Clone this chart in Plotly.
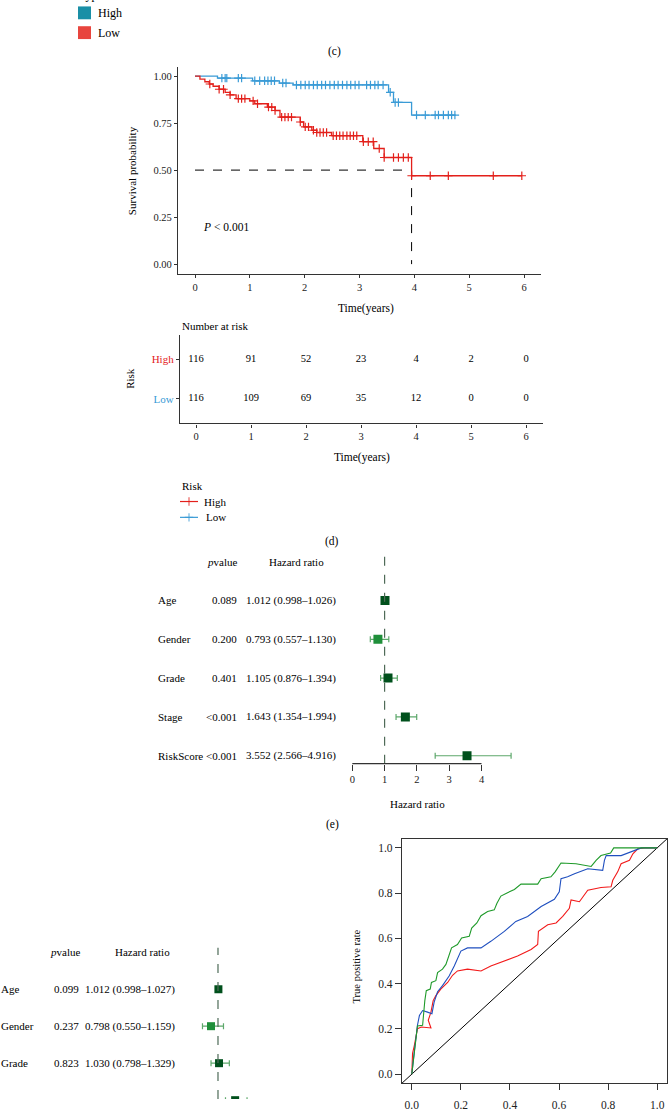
import plotly.graph_objects as go

W, H = 668, 1111
SERIF = "Liberation Serif"

# ---------------- data ----------------
# Kaplan-Meier (panel c)
km_high_event_t = [0.09, 0.18, 0.26, 0.33, 0.44, 0.55, 0.64, 0.75, 1.00, 1.09, 1.32, 1.46, 1.55,
                   1.92, 1.98, 2.13, 2.22, 2.49, 3.06, 3.26, 3.45, 3.95]
km_high_event_s = [0.984, 0.970, 0.958, 0.946, 0.930, 0.914, 0.900, 0.880, 0.868, 0.853, 0.835, 0.817,
                   0.782, 0.756, 0.730, 0.712, 0.700, 0.683, 0.651, 0.615, 0.567, 0.470]
km_high_end = 5.96
km_high_cens = [0.27, 0.44, 0.52, 0.64, 0.79, 0.85, 0.91, 1.06, 1.14, 1.34, 1.40, 1.46, 1.58, 1.64, 1.70,
                1.76, 1.92, 2.01, 2.07, 2.16, 2.22, 2.28, 2.34, 2.40, 2.52, 2.58, 2.64, 2.70, 2.77, 2.83,
                2.89, 2.95, 3.07, 3.16, 3.25, 3.36, 3.45, 3.62, 3.71, 3.80, 3.89, 3.95, 4.29, 4.62,
                5.44, 5.96]
km_low_event_t = [0.41, 1.05, 1.54, 1.79, 3.53, 3.62, 3.95]
km_low_event_s = [0.989, 0.975, 0.963, 0.953, 0.914, 0.860, 0.793]
km_low_end = 4.74
km_low_cens = [0.49, 0.55, 0.58, 0.79, 0.85, 1.09, 1.18, 1.27, 1.33, 1.39, 1.45, 1.60, 1.66, 1.85, 1.93,
               2.01, 2.08, 2.16, 2.23, 2.31, 2.38, 2.46, 2.54, 2.61, 2.69, 2.77, 2.84, 2.92, 2.99, 3.13,
               3.20, 3.28, 3.34, 3.43, 3.56, 3.65, 3.71, 4.04, 4.20, 4.38, 4.44, 4.53, 4.62, 4.68, 4.74]
median_time = 3.95
median_level = 0.5
p_text = "<i>P</i> < 0.001"

risk_groups = ["High", "Low"]
risk_times = [0, 1, 2, 3, 4, 5, 6]
risk_high = [116, 91, 52, 23, 4, 2, 0]
risk_low = [116, 109, 69, 35, 12, 0, 0]
km_yticks = [0, 0.25, 0.5, 0.75, 1.0]

# Forest (panel d)
fd_vars = ["Age", "Gender", "Grade", "Stage", "RiskScore"]
fd_p = ["0.089", "0.200", "0.401", "<0.001", "<0.001"]
fd_hr = [1.012, 0.793, 1.105, 1.643, 3.552]
fd_lo = [0.998, 0.557, 0.876, 1.354, 2.566]
fd_hi = [1.026, 1.130, 1.394, 1.994, 4.916]
fd_ticks = [0, 1, 2, 3, 4]

# Forest (panel e, cut by the page edge)
fe_vars = ["Age", "Gender", "Grade", "Stage"]
fe_p = ["0.099", "0.237", "0.823", "<0.001"]
fe_hr = [1.012, 0.798, 1.030, 1.497]
fe_lo = [0.998, 0.550, 0.798, 1.217]
fe_hi = [1.027, 1.159, 1.329, 1.842]

# ROC curves
roc_green_fpr = [0, 0.004, 0.010, 0.015, 0.020, 0.023, 0.044, 0.048, 0.053, 0.059, 0.075, 0.080, 0.098,
                 0.105, 0.125, 0.139, 0.152, 0.162, 0.186, 0.203, 0.234, 0.244, 0.265, 0.282, 0.309,
                 0.336, 0.347, 0.363, 0.390, 0.418, 0.445, 0.513, 0.527, 0.567, 0.584, 0.601, 0.608,
                 0.669, 0.731, 0.751, 0.771, 0.810, 0.823, 1.0]
roc_green_tpr = [0, 0.041, 0.085, 0.143, 0.201, 0.213, 0.216, 0.274, 0.325, 0.369, 0.376, 0.405, 0.413,
                 0.449, 0.464, 0.485, 0.522, 0.558, 0.573, 0.602, 0.609, 0.646, 0.668, 0.700, 0.719,
                 0.726, 0.755, 0.787, 0.802, 0.816, 0.840, 0.840, 0.864, 0.872, 0.894, 0.923, 0.933,
                 0.930, 0.918, 0.945, 0.966, 0.977, 1.0, 1.0]
roc_blue_fpr = [0, 0.004, 0.010, 0.015, 0.023, 0.031, 0.044, 0.064, 0.082, 0.091, 0.105, 0.125, 0.152,
                0.173, 0.200, 0.227, 0.282, 0.322, 0.377, 0.424, 0.472, 0.527, 0.581, 0.601, 0.608,
                0.635, 0.663, 0.717, 0.778, 0.785, 0.792, 0.853, 0.907, 0.935, 1.0]
roc_blue_tpr = [0, 0.055, 0.099, 0.143, 0.216, 0.259, 0.281, 0.274, 0.267, 0.318, 0.364, 0.391, 0.434,
                0.478, 0.544, 0.558, 0.558, 0.587, 0.631, 0.675, 0.697, 0.741, 0.773, 0.806, 0.864,
                0.872, 0.886, 0.908, 0.901, 0.945, 0.966, 0.966, 0.988, 1.0, 1.0]
roc_red_fpr = [0, 0.003, 0.010, 0.016, 0.023, 0.039, 0.078, 0.067, 0.078, 0.087, 0.098, 0.118, 0.146,
               0.166, 0.186, 0.227, 0.282, 0.322, 0.377, 0.431, 0.486, 0.513, 0.516, 0.554, 0.588,
               0.615, 0.642, 0.649, 0.683, 0.717, 0.771, 0.812, 0.819, 0.839, 0.853, 0.887, 0.901,
               0.921, 0.948, 1.0]
roc_red_tpr = [0, 0.092, 0.125, 0.157, 0.201, 0.208, 0.204, 0.238, 0.274, 0.325, 0.347, 0.376, 0.405,
               0.437, 0.456, 0.464, 0.456, 0.478, 0.500, 0.522, 0.551, 0.573, 0.631, 0.660, 0.668,
               0.697, 0.733, 0.770, 0.762, 0.813, 0.825, 0.828, 0.857, 0.894, 0.930, 0.945, 0.974,
               0.996, 1.0, 1.0]
roc_ticks = [0, 0.2, 0.4, 0.6, 0.8, 1.0]

# ---------------- styles ----------------
RED = "#E3201B"
BLUE = "#3A9BD6"
AX = "#333333"
DARKGREEN = "#00501C"
LIGHTGREEN = "#1F8F3A"
CI_GREEN = "#5DA86B"
TEAL = "#1A8FA6"
LEGRED = "#E8453E"
FS = 11  # forest text size


def px(x):
    return x / W


def py(y):
    return 1 - y / H


def surv_at(t, ts, ss):
    s = 1.0
    for ti, si in zip(ts, ss):
        if ti <= t:
            s = si
    return s


annotations = []


def ann(text, x, y, xanchor="center", size=11, color="black", angle=0, xref="paper", yref="paper",
        yanchor="middle"):
    annotations.append(dict(text=text, x=x, y=y, xref=xref, yref=yref, xanchor=xanchor, yanchor=yanchor,
                            showarrow=False, textangle=angle, borderpad=0,
                            font=dict(family=SERIF, size=size, color=color)))


fig = go.Figure()

# ---------------- KM panel ----------------
fig.add_trace(go.Scatter(x=[0, median_time], y=[median_level, median_level], mode="lines",
                         line=dict(color="black", width=1, dash="dash"), xaxis="x", yaxis="y"))
fig.add_trace(go.Scatter(x=[median_time, median_time], y=[median_level, 0], mode="lines",
                         line=dict(color="black", width=1, dash="dash"), xaxis="x", yaxis="y"))
for ts, ss, end, cens, col in [(km_low_event_t, km_low_event_s, km_low_end, km_low_cens, BLUE),
                               (km_high_event_t, km_high_event_s, km_high_end, km_high_cens, RED)]:
    fig.add_trace(go.Scatter(x=[0] + ts + [end], y=[1.0] + ss + [ss[-1]], mode="lines",
                             line=dict(color=col, width=1.3, shape="hv"), xaxis="x", yaxis="y"))
    fig.add_trace(go.Scatter(x=cens, y=[surv_at(c, ts, ss) for c in cens], mode="markers",
                             marker=dict(symbol="cross-thin", size=6, line=dict(color=col, width=1.2)),
                             xaxis="x", yaxis="y"))

# ---------------- risk table ----------------
fig.add_trace(go.Scatter(x=risk_times, y=[2] * len(risk_times), mode="text",
                         text=[str(v) for v in risk_high],
                         textfont=dict(family=SERIF, size=10.5, color="black"), xaxis="x2", yaxis="y2"))
fig.add_trace(go.Scatter(x=risk_times, y=[1] * len(risk_times), mode="text",
                         text=[str(v) for v in risk_low],
                         textfont=dict(family=SERIF, size=10.5, color="black"), xaxis="x2", yaxis="y2"))

# ---------------- forest d ----------------
rows_d = list(range(1, len(fd_vars) + 1))
fig.add_trace(go.Scatter(
    x=fd_hr, y=rows_d, mode="markers", xaxis="x3", yaxis="y3",
    marker=dict(symbol="square", size=9, color=[DARKGREEN if h >= 1 else LIGHTGREEN for h in fd_hr]),
    error_x=dict(type="data", symmetric=False,
                 array=[h - m for h, m in zip(fd_hi, fd_hr)],
                 arrayminus=[m - l for m, l in zip(fd_hr, fd_lo)],
                 color=CI_GREEN, thickness=1.2, width=3)))

# ---------------- forest e ----------------
rows_e = list(range(1, len(fe_vars) + 1))
fig.add_trace(go.Scatter(
    x=fe_hr, y=rows_e, mode="markers", xaxis="x4", yaxis="y4",
    marker=dict(symbol="square", size=8, color=[DARKGREEN if h >= 1 else LIGHTGREEN for h in fe_hr]),
    error_x=dict(type="data", symmetric=False,
                 array=[h - m for h, m in zip(fe_hi, fe_hr)],
                 arrayminus=[m - l for m, l in zip(fe_hr, fe_lo)],
                 color=CI_GREEN, thickness=1.2, width=3)))

# ---------------- ROC ----------------
fig.add_trace(go.Scatter(x=[-0.04, 1.04], y=[-0.04, 1.04], mode="lines",
                         line=dict(color="black", width=1), xaxis="x5", yaxis="y5"))
for fpr, tpr, col in [(roc_red_fpr, roc_red_tpr, "#F21A1A"),
                      (roc_blue_fpr, roc_blue_tpr, "#1F4FBF"),
                      (roc_green_fpr, roc_green_tpr, "#1F9A2A")]:
    fig.add_trace(go.Scatter(x=fpr, y=tpr, mode="lines", line=dict(color=col, width=1.1),
                             xaxis="x5", yaxis="y5"))

# ---------------- decoration overlay (legend glyphs) ----------------
for yy, col in [(507, RED), (523, BLUE)]:
    fig.add_trace(go.Scatter(x=[180, 189, 198], y=[yy, yy, yy], mode="lines+markers",
                             line=dict(color=col, width=1.2),
                             marker=dict(symbol="cross-thin", size=[0, 6, 0], line=dict(color=col, width=1.2)),
                             xaxis="x6", yaxis="y6"))

# ---------------- annotations ----------------
ann("Type", px(78), py(-5), xanchor="left", size=12)
ann("High", px(97), py(13), xanchor="left", size=12)
ann("Low", px(97), py(33), xanchor="left", size=12)
ann("(c)", px(334), py(52), size=11.5)
ann("(d)", px(332), py(547), size=11.5)
ann("(e)", px(332), py(834), size=11.5)

ann("Survival probability", px(132), py(173), size=11, angle=-90)
ann(p_text, px(202), py(229), xanchor="left", size=11.5)
ann("Time(years)", px(366), py(312), size=11.5)
ann("Number at risk", px(181), py(330), xanchor="left", size=11)
ann("Risk", px(130), py(383), size=11, angle=-90)
ann("Time(years)", px(362), py(463), size=11.5)
ann("Risk", px(181), py(491), xanchor="left", size=11)
ann("High", px(203), py(507), xanchor="left", size=11)
ann("Low", px(205), py(523), xanchor="left", size=11)

# forest d text
ann("<i>p</i>value", px(238), 0, xanchor="right", yref="y3", size=FS)
ann("Hazard ratio", px(325), 0, xanchor="right", yref="y3", size=FS)
for i, v in enumerate(fd_vars):
    r = rows_d[i]
    ann(v, px(157), r, xanchor="left", yref="y3", size=FS)
    ann(fd_p[i], px(238), r, xanchor="right", yref="y3", size=FS)
    ann(f"{fd_hr[i]:.3f} ({fd_lo[i]:.3f}\u2013{fd_hi[i]:.3f})", px(245), r, xanchor="left", yref="y3",
        size=FS)
ann("Hazard ratio", px(417), py(813), size=11)

# forest e text
ann("<i>p</i>value", px(81), 0, xanchor="right", yref="y4", size=FS)
ann("Hazard ratio", px(171), 0, xanchor="right", yref="y4", size=FS)
for i, v in enumerate(fe_vars):
    r = rows_e[i]
    ann(v, px(0), r, xanchor="left", yref="y4", size=FS)
    ann(fe_p[i], px(80), r, xanchor="right", yref="y4", size=FS)
    ann(f"{fe_hr[i]:.3f} ({fe_lo[i]:.3f}\u2013{fe_hi[i]:.3f})", px(84), r, xanchor="left", yref="y4",
        size=FS)

ann("True positive rate", px(356), py(977), size=10.5, angle=-90)

# ---------------- shapes ----------------
shapes = [
    dict(type="rect", xref="paper", yref="paper", x0=px(78), x1=px(91), y0=py(19.5), y1=py(6.5),
         fillcolor=TEAL, line=dict(width=0)),
    dict(type="rect", xref="paper", yref="paper", x0=px(78), x1=px(91), y0=py(39.5), y1=py(26.5),
         fillcolor=LEGRED, line=dict(width=0)),
    # forest d reference line and axis line
    dict(type="line", xref="x3", yref="paper", x0=1, x1=1, y0=py(772), y1=py(560),
         line=dict(color="#4F6B58", width=1.2, dash="dash")),
    dict(type="line", xref="x3", yref="y3 domain", x0=fd_ticks[0], x1=fd_ticks[-1], y0=0, y1=0,
         line=dict(color=AX, width=1.2)),
    # forest e reference line
    dict(type="line", xref="x4", yref="paper", x0=1, x1=1, y0=0, y1=py(958),
         line=dict(color="#4F6B58", width=1.2, dash="dash")),
]

tickfont = dict(family=SERIF, size=10.5, color="#222")
common = dict(showgrid=False, zeroline=False, fixedrange=True)

fig.update_layout(
    width=W, height=H, margin=dict(l=0, r=0, t=0, b=0),
    paper_bgcolor="white", plot_bgcolor="rgba(0,0,0,0)", showlegend=False,
    font=dict(family=SERIF, color="black"),
    annotations=annotations, shapes=shapes,
    xaxis=dict(domain=[px(178), px(541)], range=[-0.31, 6.31], anchor="y", showline=True,
               linecolor=AX, linewidth=1.3, ticks="outside", ticklen=3, tickcolor=AX,
               tickvals=risk_times, tickfont=tickfont, **common),
    yaxis=dict(domain=[py(277), py(68)], range=[-0.0526, 1.047], anchor="x", showline=True,
               linecolor=AX, linewidth=1.3, ticks="outside", ticklen=3, tickcolor=AX,
               tickvals=km_yticks, tickformat=".2f", tickfont=tickfont, **common),
    xaxis2=dict(domain=[px(180), px(543)], range=[-0.291, 6.309], anchor="y2", showline=True,
                linecolor=AX, linewidth=1.3, ticks="outside", ticklen=3, tickcolor=AX,
                tickvals=risk_times, tickfont=tickfont, **common),
    yaxis2=dict(domain=[py(428), py(339)], range=[0.375, 2.6], anchor="x2", showline=True,
                linecolor=AX, linewidth=1.3, ticks="outside", ticklen=3, tickcolor=AX,
                tickvals=[2, 1],
                ticktext=[f"<span style='color:{RED}'>{risk_groups[0]}</span>",
                          f"<span style='color:{BLUE}'>{risk_groups[1]}</span>"],
                tickfont=dict(family=SERIF, size=11), **common),
    xaxis3=dict(domain=[px(340), px(520)], range=[-0.381, 5.192], anchor="y3", showline=False,
                ticks="outside", ticklen=6, tickcolor=AX, tickwidth=1.2, tickvals=fd_ticks,
                tickfont=tickfont, **common),
    yaxis3=dict(domain=[py(772), py(555)], range=[5.204, -0.325], anchor="x3", visible=False, **common),
    xaxis4=dict(domain=[px(150), px(320)], range=[-0.971, 3.957], anchor="y4", visible=False, **common),
    yaxis4=dict(domain=[0, py(955)], range=[3.968, -0.203], anchor="x4", visible=False, **common),
    xaxis5=dict(domain=[px(402), px(667)], range=[-0.04, 1.04], anchor="y5", showline=True, mirror=True,
                linecolor=AX, linewidth=1.2, ticks="outside", ticklen=6, tickcolor=AX,
                ticklabelstandoff=5,
                tickvals=roc_ticks, tickformat=".1f", tickfont=dict(family=SERIF, size=11.5, color="#222"),
                **common),
    yaxis5=dict(domain=[py(1095), py(848)], range=[-0.04, 1.04], anchor="x5", showline=True, mirror=True,
                linecolor=AX, linewidth=1.2, ticks="outside", ticklen=6, tickcolor=AX,
                tickvals=roc_ticks, tickformat=".1f", tickfont=dict(family=SERIF, size=11.5, color="#222"),
                **common),
    xaxis6=dict(domain=[0, 1], range=[0, W], anchor="y6", visible=False, **common),
    yaxis6=dict(domain=[0, 1], range=[H, 0], anchor="x6", visible=False, **common),
)

fig.write_html("out.html", config={"displayModeBar": False},
               post_script="document.body.style.margin='0';document.body.style.overflow='hidden';")
